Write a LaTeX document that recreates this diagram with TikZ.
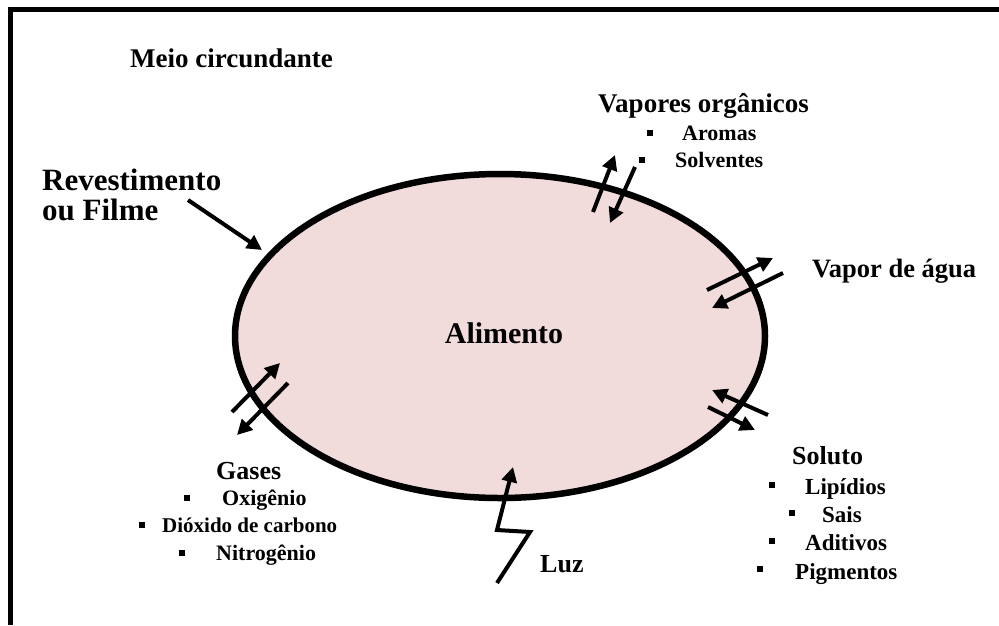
\documentclass[tikz,border=0pt]{standalone}
\usepackage{fontspec}
\setmainfont{Liberation Serif}
\usetikzlibrary{arrows.meta}
\definecolor{food}{HTML}{F2DCDB}
\begin{document}
\begin{tikzpicture}[x=1pt,y=-1pt,
  title/.style={font=\fontsize{26}{30}\selectfont\bfseries, inner sep=0pt, anchor=base west},
  big/.style={font=\fontsize{30}{34}\selectfont\bfseries, inner sep=0pt, anchor=base west},
  item/.style={font=\fontsize{22}{26}\selectfont\bfseries, inner sep=0pt, anchor=base west},
  bul/.style={fill=black, minimum size=6pt, inner sep=0pt},
  flow/.style={line width=4pt, -{Triangle[length=15pt,width=15pt]}}]
\useasboundingbox (0,0) rectangle (999,625);
% frame
\draw[line width=4.4pt, line join=miter] (10.5,625) -- (10.5,9.5) -- (999,9.5);
% food
\draw[line width=6.5pt, fill=food] (500,336) ellipse [x radius=265pt, y radius=162pt];
\node[big, anchor=base] (alim) at (504,343) {Alimento};
% labels
\node[title, font=\fontsize{27}{30}\selectfont\bfseries] (meio) at (130,67) {Meio circundante};
\node[big, font=\fontsize{31}{34}\selectfont\bfseries] (rev1) at (42,190) {Revestimento};
\node[big, font=\fontsize{31}{34}\selectfont\bfseries] (rev2) at (42,220) {ou Filme};
\node[title, font=\fontsize{27}{30}\selectfont\bfseries] (vap) at (598,112) {Vapores orgânicos};
\node[bul] (b1) at (650,133) {};
\node[item] (aro) at (682,140) {Aromas};
\node[bul] (b2) at (642,160) {};
\node[item] (sol) at (675,167) {Solventes};
\node[title, font=\fontsize{26.5}{30}\selectfont\bfseries] (agua) at (812,277) {Vapor de água};
\node[title] (gas) at (216,479) {Gases};
\node[bul] (b3) at (187,498) {};
\node[item] (oxi) at (222,505) {Oxigênio};
\node[bul] (b4) at (142,525) {};
\node[item, font=\fontsize{21}{25}\selectfont\bfseries] (dio) at (162,532) {Dióxido de carbono};
\node[bul] (b5) at (182,553) {};
\node[item] (nit) at (216,560) {Nitrogênio};
\node[title] (solu) at (792,464) {Soluto};
\node[bul] (b6) at (772,485) {};
\node[item, font=\fontsize{23}{26}\selectfont\bfseries] (lip) at (805,494) {Lipídios};
\node[bul] (b7) at (792,513) {};
\node[item, font=\fontsize{23}{26}\selectfont\bfseries] (sais) at (822,522) {Sais};
\node[bul] (b8) at (772,541) {};
\node[item, font=\fontsize{23}{26}\selectfont\bfseries] (adi) at (805,550) {Aditivos};
\node[bul] (b9) at (760,569) {};
\node[item, font=\fontsize{23}{26}\selectfont\bfseries] (pig) at (795,579) {Pigmentos};
\node[title] (luz) at (540,572) {Luz};
% arrow coordinates
\coordinate (r0) at (188,200); \coordinate (r1) at (262,250);
\coordinate (v0) at (593,212); \coordinate (v1) at (615,155);
\coordinate (v2) at (635,167); \coordinate (v3) at (610,223);
\coordinate (w0) at (707,290); \coordinate (w1) at (773,258);
\coordinate (w2) at (783,273); \coordinate (w3) at (712,308);
\coordinate (s0) at (768,415); \coordinate (s1) at (712,390);
\coordinate (s2) at (708,407); \coordinate (s3) at (755,430);
\coordinate (g0) at (232,412); \coordinate (g1) at (280,363);
\coordinate (g2) at (288,383); \coordinate (g3) at (237,435);
\coordinate (l0) at (497,583); \coordinate (l1) at (530,532);
\coordinate (l2) at (497,530); \coordinate (l3) at (513,467);
\draw[flow] (r0) -- (r1);
\draw[flow] (v0) -- (v1);
\draw[flow] (v2) -- (v3);
\draw[flow] (w0) -- (w1);
\draw[flow] (w2) -- (w3);
\draw[flow] (s0) -- (s1);
\draw[flow] (s2) -- (s3);
\draw[flow] (g0) -- (g1);
\draw[flow] (g2) -- (g3);
\draw[flow, line join=miter] (l0) -- (l1) -- (l2) -- (l3);
\end{tikzpicture}
\end{document}
